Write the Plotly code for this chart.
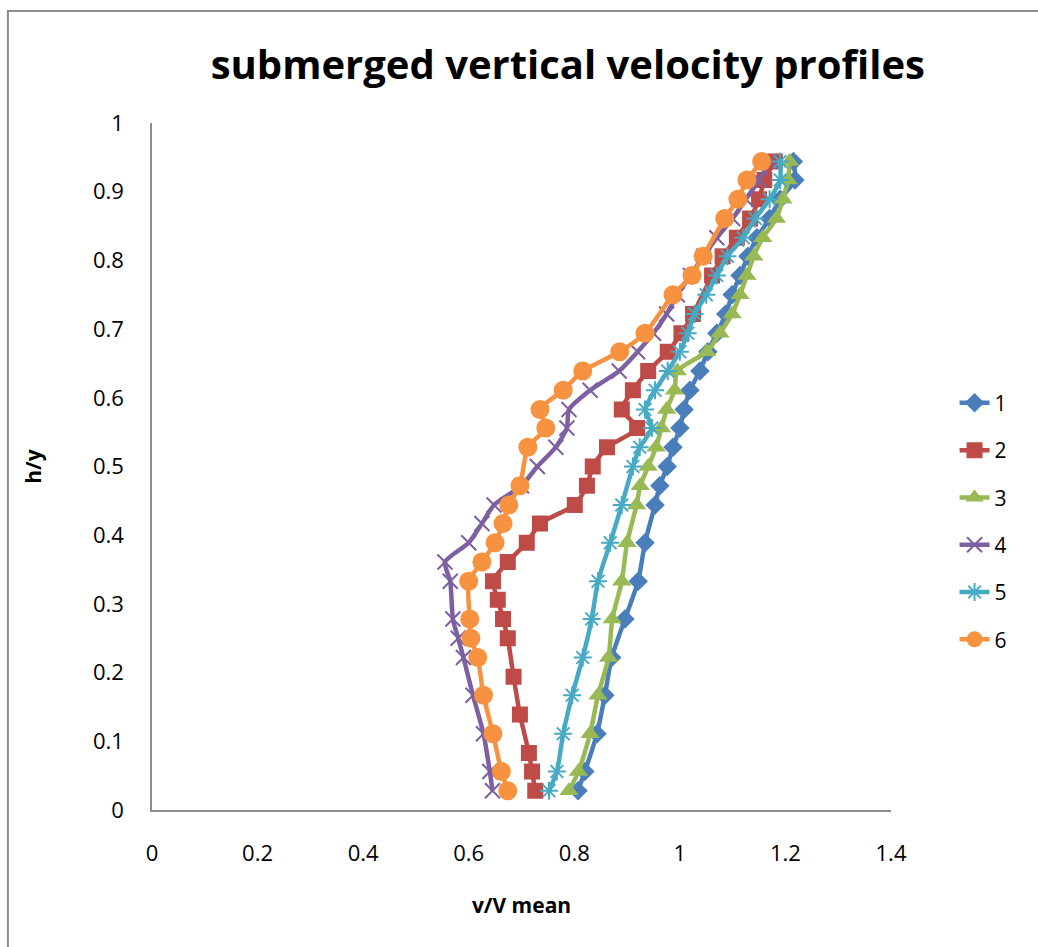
import plotly.graph_objects as go

# ---- data ----
h1 = [0.028,0.056,0.111,0.167,0.222,0.278,0.333,0.389,0.444,0.472,0.5,0.528,0.556,0.583,0.611,0.639,0.667,0.694,0.722,0.75,0.778,0.806,0.833,0.861,0.889,0.917,0.944]
v1 = [0.807,0.82,0.843,0.858,0.871,0.896,0.921,0.934,0.953,0.962,0.976,0.987,1.0,1.008,1.019,1.038,1.053,1.07,1.087,1.099,1.114,1.129,1.146,1.17,1.19,1.218,1.215]

h2 = [0.028,0.056,0.083,0.139,0.194,0.25,0.278,0.306,0.333,0.361,0.389,0.417,0.444,0.472,0.5,0.528,0.556,0.583,0.611,0.639,0.667,0.694,0.722,0.778,0.806,0.833,0.861,0.889,0.917,0.944]
v2 = [0.726,0.72,0.714,0.697,0.685,0.674,0.665,0.655,0.646,0.674,0.71,0.735,0.801,0.824,0.835,0.862,0.919,0.89,0.911,0.94,0.977,1.003,1.025,1.061,1.081,1.108,1.133,1.15,1.16,1.18]

h3 = [0.028,0.056,0.111,0.167,0.222,0.278,0.333,0.389,0.444,0.472,0.5,0.528,0.556,0.583,0.611,0.639,0.667,0.694,0.722,0.75,0.778,0.806,0.833,0.861,0.889,0.917,0.944]
v3 = [0.79,0.808,0.83,0.845,0.865,0.872,0.89,0.9,0.918,0.925,0.94,0.955,0.965,0.975,0.99,0.995,1.051,1.076,1.099,1.114,1.127,1.14,1.157,1.183,1.195,1.205,1.208]

h4 = [0.028,0.056,0.111,0.167,0.222,0.25,0.278,0.333,0.361,0.389,0.417,0.444,0.472,0.5,0.528,0.556,0.583,0.611,0.639,0.667,0.694,0.722,0.75,0.778,0.806,0.833,0.861,0.889,0.917,0.944]
v4 = [0.645,0.64,0.628,0.608,0.59,0.58,0.57,0.565,0.555,0.6,0.625,0.648,0.7,0.73,0.765,0.786,0.79,0.83,0.885,0.92,0.95,0.975,0.995,1.02,1.045,1.07,1.1,1.125,1.15,1.17]

h5 = [0.028,0.056,0.111,0.167,0.222,0.278,0.333,0.389,0.444,0.5,0.528,0.556,0.583,0.611,0.639,0.667,0.694,0.722,0.75,0.778,0.806,0.833,0.861,0.889,0.917,0.944]
v5 = [0.752,0.767,0.779,0.796,0.816,0.833,0.845,0.868,0.89,0.911,0.924,0.947,0.934,0.953,0.977,1.0,1.015,1.028,1.05,1.07,1.09,1.12,1.143,1.17,1.19,1.19]

h6 = [0.028,0.056,0.111,0.167,0.222,0.25,0.278,0.333,0.361,0.389,0.417,0.444,0.472,0.528,0.556,0.583,0.611,0.639,0.667,0.694,0.75,0.778,0.806,0.861,0.889,0.917,0.944]
v6 = [0.674,0.662,0.646,0.628,0.617,0.604,0.602,0.6,0.625,0.65,0.665,0.676,0.697,0.712,0.746,0.735,0.779,0.816,0.886,0.934,0.987,1.023,1.044,1.085,1.11,1.127,1.155]

names = ["1", "2", "3", "4", "5", "6"]
colors = ["#4A7EBB", "#BE4B48", "#98B954", "#7D60A0", "#46AAC5", "#F69240"]

fig = go.Figure()
series = [(h1, v1), (h2, v2), (h3, v3), (h4, v4), (h5, v5), (h6, v6)]
markers = [
    dict(symbol="diamond", size=15),
    dict(symbol="square", size=16),
    dict(symbol="triangle-up", size=17),
    dict(symbol="x-thin-open", size=15, line=dict(width=2)),
    dict(symbol="asterisk-open", size=15, line=dict(width=2)),
    dict(symbol="circle", size=19),
]
for (h, v), n, c, m in zip(series, names, colors, markers):
    mk = dict(m)
    mk["color"] = c
    if "line" in mk:
        mk["line"] = dict(width=2, color=c)
    fig.add_trace(go.Scatter(
        x=v, y=h, name=n, legendgroup=n, mode="lines+markers",
        line=dict(color=c, width=4.5, shape="spline", smoothing=0.6),
        marker=mk,
    ))

font = "Open Sans, Liberation Sans, sans-serif"
fig.update_layout(
    width=1038, height=947,
    margin=dict(l=152, r=147, t=123, b=137),
    paper_bgcolor="white", plot_bgcolor="white",
    font=dict(family=font, size=21, color="black"),
    title=dict(text="<b>submerged vertical velocity profiles</b>",
               x=0.547, xanchor="center", y=0.931, yanchor="middle",
               font=dict(size=40, family=font, color="black")),
    showlegend=True,
    legend=dict(x=1.086, y=0.622, xanchor="left", yanchor="top",
                font=dict(size=21, family=font), tracegroupgap=17,
                bgcolor="rgba(0,0,0,0)"),
    shapes=[dict(type="rect", xref="paper", yref="paper",
                 x0=-0.195, x1=1.3, y0=-0.4, y1=1.163,
                 line=dict(color="#8C8C8C", width=2), fillcolor="rgba(0,0,0,0)",
                 layer="below")],
)
fig.update_xaxes(range=[0, 1.4], dtick=0.2, tick0=0, showgrid=False, zeroline=False,
                 showline=True, linecolor="#8C8C8C", linewidth=1.5, ticks="",
                 ticklabelstandoff=23, tickfont=dict(size=22),
                 title=dict(text="<b>v/V mean</b>", font=dict(size=21), standoff=32))
fig.update_yaxes(range=[0, 1], dtick=0.1, tick0=0, showgrid=False, zeroline=False,
                 showline=True, linecolor="#8C8C8C", linewidth=1.5, ticks="",
                 ticklabelstandoff=22, tickfont=dict(size=22),
                 title=dict(text="<b>h/y</b>", font=dict(size=21), standoff=46))

fig.write_html("out.html")
